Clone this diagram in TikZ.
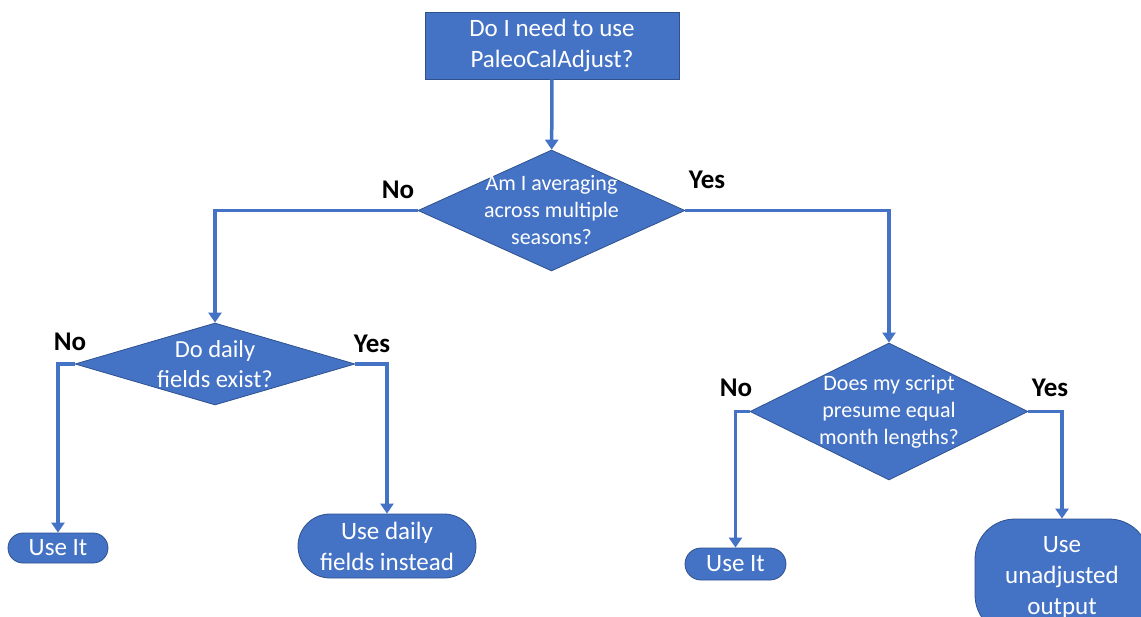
\documentclass[tikz,border=0pt]{standalone}
\usepackage{fontspec}
\setmainfont{Carlito}
\usetikzlibrary{positioning,shapes.geometric,arrows.meta}
\definecolor{boxblue}{HTML}{4472C4}
\definecolor{rimblue}{HTML}{2F528F}

\begin{document}
\begin{tikzpicture}[
  x=1pt, y=-1pt,
  mybox/.style={draw=rimblue, line width=0.8pt, fill=boxblue, text=white, align=center, inner sep=0pt, font=\fontsize{25}{31}\selectfont},
  mydiamond/.style={diamond, draw=rimblue, line width=0.8pt, fill=boxblue, inner sep=0pt, aspect=1},
  qtext/.style={text=white, align=center, font=\fontsize{22}{27}\selectfont},
  mylabel/.style={font=\fontsize{27}{30}\selectfont\bfseries},
  flow/.style={draw=boxblue, line width=3.5pt, -{Triangle[width=13pt,length=10pt]}},
  elbow/.style={to path={-| (\tikztotarget)}}
]
\useasboundingbox (0,0) rectangle (1141,617);

\node[mybox, minimum width=254, minimum height=67] (start) at (552,45.5) {Do I need to use\\PaleoCalAdjust?};

\node[mydiamond, minimum width=267, minimum height=121,
  label={[qtext]center:{Am I averaging\\across multiple\\seasons?}}] (q1) at (551.5,210.5) {};
\node[mydiamond, minimum width=280, minimum height=82,
  label={[qtext, font=\fontsize{24.5}{30}\selectfont]center:{Do daily\\fields exist?}}] (q2) at (215,364) {};
\node[mydiamond, minimum width=278, minimum height=137,
  label={[qtext]center:{Does my script\\presume equal\\month lengths?}}] (q3) at (889,411.5) {};

\node[mybox, rounded corners=15, minimum width=100, minimum height=30] (useit1) at (58,548) {Use It};
\node[mybox, rounded corners=32, minimum width=178, minimum height=64] (daily) at (387,546) {Use daily\\fields instead};
\node[mybox, rounded corners=16, minimum width=101, minimum height=32] (useit2) at (735.5,564) {Use It};
\node[mybox, rounded corners=40, minimum width=174, minimum height=116] (unadj) at (1062,577) {Use\\unadjusted\\output};

\node[mylabel] (no1) at (398,190) {No};
\node[mylabel] (yes1) at (707,180) {Yes};
\node[mylabel] (no2) at (70,342) {No};
\node[mylabel] (yes2) at (372,344) {Yes};
\node[mylabel] (no3) at (736,388) {No};
\node[mylabel] (yes3) at (1050,388) {Yes};

\path (start) edge[flow] (q1)
(q1.west) edge[flow, elbow] (q2.north)
(q1.east) edge[flow, elbow] (q3.north)
(q2.west) edge[flow, elbow] (useit1.north)
(q2.east) edge[flow, elbow] (daily.north)
(q3.west) edge[flow, elbow] (useit2.north)
(q3.east) edge[flow, elbow] (unadj.north)
;

\end{tikzpicture}
\end{document}
